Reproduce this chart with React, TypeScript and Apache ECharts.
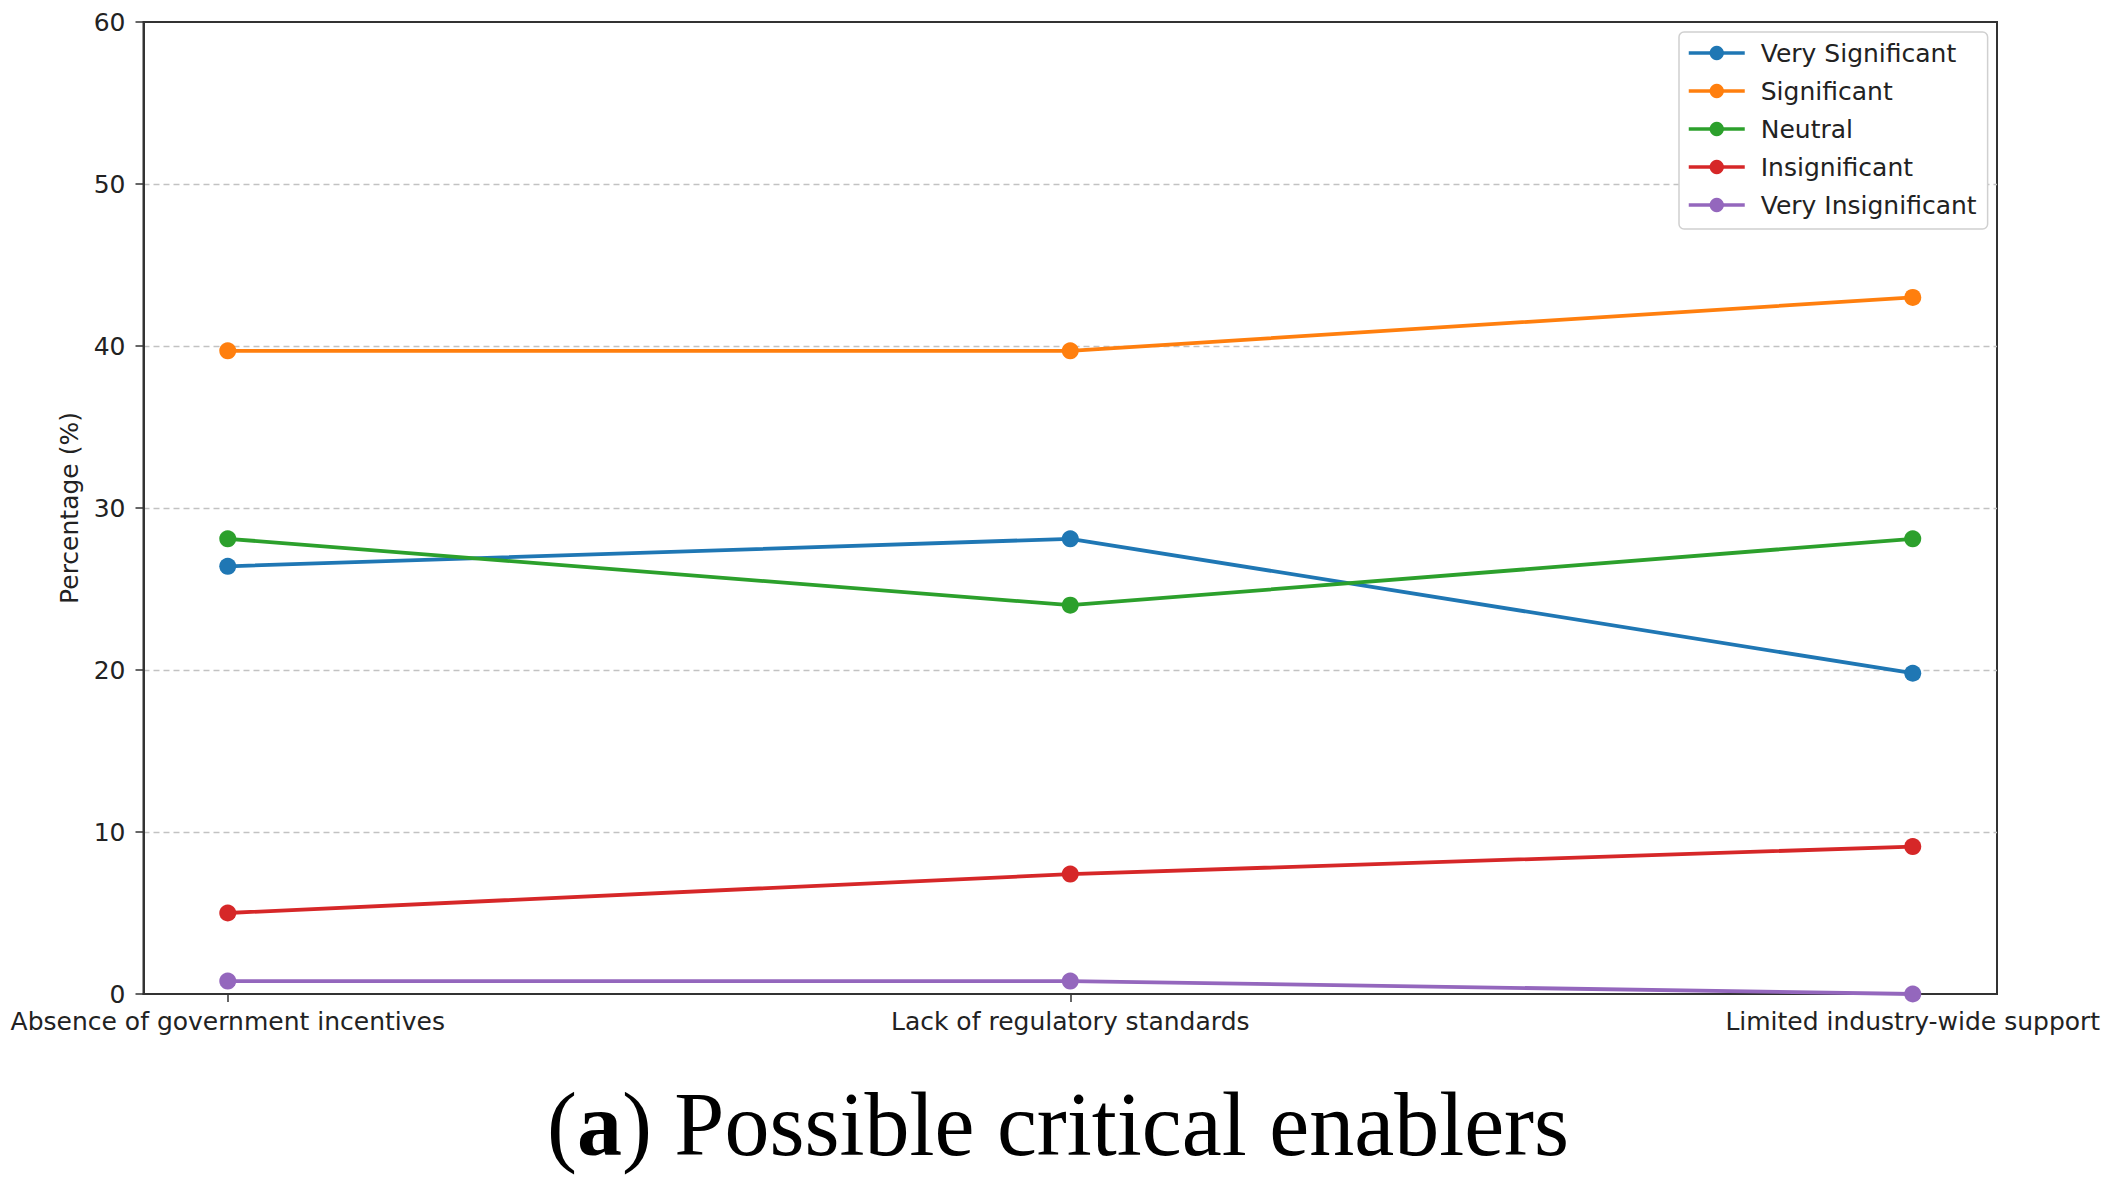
import React, { useEffect, useRef } from "react";
import * as echarts from "echarts";

const categories = [
  "Absence of government incentives",
  "Lack of regulatory standards",
  "Limited industry-wide support",
];
const categoryPositions = [0, 1, 2];

const seriesNames = [
  "Very Significant",
  "Significant",
  "Neutral",
  "Insignificant",
  "Very Insignificant",
];
const verySignificant = [26.4, 28.1, 19.8];
const significant = [39.7, 39.7, 43.0];
const neutral = [28.1, 24.0, 28.1];
const insignificant = [5.0, 7.4, 9.1];
const veryInsignificant = [0.8, 0.8, 0.0];
const seriesValues = [verySignificant, significant, neutral, insignificant, veryInsignificant];
const colors = ["#1f77b4", "#ff7f0e", "#2ca02c", "#d62728", "#9467bd"];

const yTicks = { min: 0, max: 60, interval: 10 };
const yAxisName = "Percentage (%)";
const captionLabel = "a";
const captionText = " Possible critical enablers";

const FONT = "DejaVu Sans";

export default function App() {
  const ref = useRef<HTMLDivElement>(null);
  useEffect(() => {
    if (!ref.current) return;
    const chart = echarts.init(ref.current, undefined, { renderer: "svg" });
    const option = {
      animation: false,
      backgroundColor: "#fff",
      grid: {
        left: 143.5,
        top: 22,
        right: 114,
        bottom: 193,
        show: true,
        borderColor: "#333",
        borderWidth: 2,
        backgroundColor: "transparent",
      },
      legend: {
        orient: "vertical",
        left: 1679,
        top: 32,
        data: seriesNames,
        backgroundColor: "#fff",
        borderColor: "#d0d0d0",
        borderWidth: 1.5,
        borderRadius: 5,
        padding: [8, 11, 11, 8],
        itemWidth: 56,
        itemHeight: 18,
        itemGap: 12,
        lineStyle: { width: 3.5 },
        textStyle: {
          fontFamily: FONT,
          fontSize: 25,
          lineHeight: 26,
          color: "#222",
          padding: [0, 0, 0, 11],
        },
      },
      xAxis: {
        type: "value",
        min: -0.1,
        max: 2.1,
        splitLine: { show: false },
        axisLine: { show: true, onZero: false, lineStyle: { color: "#333", width: 2 } },
        axisTick: {
          show: true,
          length: 8,
          customValues: categoryPositions,
          lineStyle: { color: "#333", width: 1.5 },
        },
        axisLabel: {
          customValues: categoryPositions,
          formatter: (v: number) => categories[Math.round(v)] ?? "",
          fontFamily: FONT,
          fontSize: 25,
          color: "#222",
          margin: 15,
        },
      },
      yAxis: {
        type: "value",
        min: yTicks.min,
        max: yTicks.max,
        interval: yTicks.interval,
        name: yAxisName,
        nameLocation: "middle",
        nameGap: 62,
        nameTextStyle: { fontFamily: FONT, fontSize: 25, color: "#222" },
        axisLine: { show: true, onZero: false, lineStyle: { color: "#333", width: 2 } },
        axisTick: { show: true, length: 8, lineStyle: { color: "#333", width: 1.5 } },
        axisLabel: { fontFamily: FONT, fontSize: 25, color: "#222", margin: 18 },
        splitLine: {
          show: true,
          showMinLine: false,
          showMaxLine: false,
          lineStyle: { color: "#c2c2c2", width: 1.4, type: [6, 4] },
        },
      },
      series: seriesNames.map((name, i) => ({
        name,
        type: "line",
        data: seriesValues[i].map((v, j) => [categoryPositions[j], v]),
        symbol: "circle",
        symbolSize: 17,
        showSymbol: true,
        clip: false,
        lineStyle: { color: colors[i], width: 3.8 },
        itemStyle: { color: colors[i] },
        emphasis: { disabled: true },
        z: 2,
      })),
      graphic: [
        {
          type: "text",
          x: 1058,
          y: 1124,
          style: {
            text: "({b|" + captionLabel + "})" + captionText,
            fontFamily: "Liberation Serif",
            fontSize: 90,
            fill: "#000",
            textAlign: "center",
            textVerticalAlign: "middle",
            rich: {
              b: {
                fontFamily: "Liberation Serif",
                fontSize: 90,
                fontWeight: "bold",
                fill: "#000",
              },
            },
          },
        },
      ],
    };
    chart.setOption(option as any);
    return () => chart.dispose();
  }, []);
  return (
    <div
      ref={ref}
      style={{ position: "fixed", left: 0, top: 0, width: 2111, height: 1187 }}
    />
  );
}
